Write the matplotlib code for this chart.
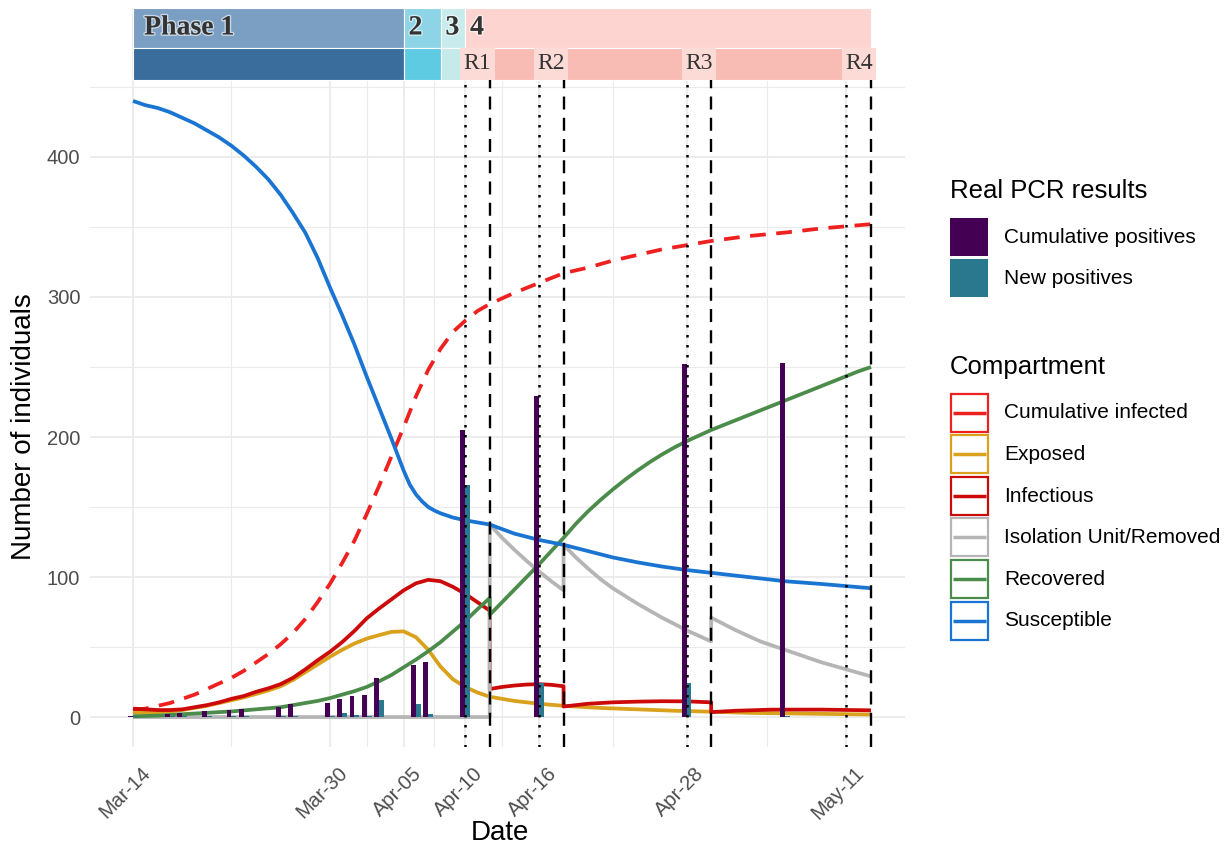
import matplotlib
matplotlib.use("Agg")
import matplotlib.pyplot as plt
import matplotlib.patheffects as pe
from matplotlib.patches import Rectangle
from matplotlib.transforms import ScaledTranslation
import pandas as pd

plt.rcParams['font.family'] = ['Liberation Sans', 'DejaVu Sans']

START = "2020-03-14"

def day(s):
    return (pd.Timestamp(s) - pd.Timestamp(START)).days

# ---------------- data ----------------
tick_dates = ["2020-03-14", "2020-03-30", "2020-04-05", "2020-04-10",
              "2020-04-16", "2020-04-28", "2020-05-11"]
tick_labels = ["Mar-14", "Mar-30", "Apr-05", "Apr-10", "Apr-16", "Apr-28", "May-11"]

phase_names = ["Phase 1", "2", "3", "4"]
phase_starts = ["2020-03-14", "2020-04-05", "2020-04-08", "2020-04-10"]
phase_ends = ["2020-04-05", "2020-04-08", "2020-04-10", "2020-05-13"]

round_names = ["R1", "R2", "R3", "R4"]
round_sample_dates = ["2020-04-10", "2020-04-16", "2020-04-28", "2020-05-11"]
round_result_dates = ["2020-04-12", "2020-04-18", "2020-04-30", "2020-05-13"]

# days since Mar-14 ; duplicated days mark the jumps at result dates
cuminf_days = list(range(0, 30)) + [31, 33, 35, 37, 39, 41, 43, 45, 47, 50, 53, 56, 60]
cuminf_vals = [5, 6, 8, 10, 13, 16, 20, 24, 28, 33, 39, 45, 52, 60, 70, 82, 95, 110,
               126, 145, 165, 186, 207, 229, 248, 263, 275, 283, 290, 295,
               303, 310, 317, 321, 326, 330, 334, 337, 340, 343.5, 346, 349, 352]

exposed_days = list(range(0, 30)) + [31, 33, 35, 38, 41, 44, 47, 50, 54, 60]
exposed_vals = [3, 3, 3.5, 4, 5, 6.5, 8, 10, 12, 14, 16.5, 19, 22, 26.5, 32, 37.5, 43,
                48, 52.5, 56, 58.5, 60.8, 61.2, 57, 48, 36, 27, 21.5, 17.5, 14.5,
                11.5, 9.5, 8, 6.5, 5.5, 4.5, 3.8, 3, 2.5, 1.8]

infect_days = list(range(0, 30)) + [29, 30, 31, 32, 33, 34, 35, 35, 37, 39, 41, 43,
                                    45, 47, 47, 49, 52, 56, 60]
infect_vals = [6, 5.5, 5, 5, 5.5, 7, 8.5, 10.5, 13, 15, 18, 20.5, 23.5, 28, 34, 40.5,
               46.5, 53.5, 61.5, 70.5, 77.5, 84, 90.5, 95.5, 98, 97, 93, 88, 82, 76,
               20, 21.5, 22.5, 23.2, 23.5, 23, 22, 7.5, 9.5, 10.5, 11, 11.3,
               11.2, 10.5, 3.5, 4.5, 5.3, 5.3, 4.8]

isol_days = [0, 29, 29, 30, 31, 32, 33, 34, 35, 35, 36, 37, 38, 39, 41, 43, 45, 47, 47,
             49, 51, 53, 56, 60]
isol_vals = [0, 0, 137.5, 128, 119.5, 111.5, 104, 97, 90.5, 123, 114, 106, 98.5, 92,
             81, 71, 62, 54, 71, 62, 54, 48, 39, 29]

recov_days = [0, 2, 4, 6, 8, 10] + list(range(12, 30)) + list(range(29, 61))
recov_vals = [0.5, 1, 2, 3, 4, 5.5, 7, 8.5, 10, 11.5, 13.5, 16, 18.5, 21.5, 25.5, 30,
              35.5, 41, 47, 53.5, 61, 68.5, 77, 85,
              73, 82, 91, 100, 109, 118.5, 128, 138, 147, 155, 162.5, 169.5, 176,
              182, 187.5, 192.5, 197, 201, 205, 208.5, 212, 215.5, 219, 222.5, 226,
              229.5, 233, 236.5, 240, 243.5, 247, 250]

susc_days = list(range(0, 22)) + [22, 22.5, 23, 23.5, 24, 24.5, 25, 26, 27, 28, 29,
                                  31, 33, 35, 37, 39, 41, 43, 45, 47, 50, 53, 56, 60]
susc_vals = [440, 437, 435, 432, 428, 424, 419, 414, 408, 401, 393, 384, 373, 360,
             346, 328, 307, 287, 266, 243, 221, 199, 176, 166, 159, 154, 150, 147.5,
             145.5, 142.5, 140.5, 139, 137.5, 131, 126.5, 123, 118.5, 114, 110.5,
             107.5, 105, 103, 100, 97, 95, 92]

pcr_days = [0, 3, 4, 6, 8, 9, 12, 13, 16, 17, 18, 19, 20, 23, 24, 27, 33, 45, 53]
cum_positives = [1, 2, 3, 4, 5, 6, 7, 9, 10, 13, 15, 16, 28, 37, 39, 205, 229, 252, 253]
new_positives = [1, 0.5, 1, 1, 1, 1, 0.5, 1, 1, 3, 1.5, 1, 12, 9, 2, 166, 24, 24, 1]

pcr_names = ["Cumulative positives", "New positives"]
pcr_colors = ["#440154", "#2A788E"]

comp_names = ["Cumulative infected", "Exposed", "Infectious",
              "Isolation Unit/Removed", "Recovered", "Susceptible"]
comp_colors = ["#EE2020", "#D9A11C", "#CC0A0A", "#B5B5B5", "#4C8C4A", "#1A74D2"]
comp_series = [(cuminf_days, cuminf_vals), (exposed_days, exposed_vals),
               (infect_days, infect_vals), (isol_days, isol_vals),
               (recov_days, recov_vals), (susc_days, susc_vals)]

phase_top_colors = ["#7a9fc2", "#8dd5e6", "#c8ebee", "#fdd4cf"]
phase_bottom_colors = ["#3a6d9c", "#5ecbe3", "#c6e9e9", "#f9bcb4"]
round_box_color = "#fcdbd6"

# ---------------- figure ----------------
W, H = 1229, 852
fig = plt.figure(figsize=(W / 100, H / 100), dpi=100)
L, R, T, B = 90, 905, 8, 747
ax = fig.add_axes([L / W, 1 - B / H, (R - L) / W, (B - T) / H])

XMIN, XMAX = -3.5, 62.76
YMIN, YMAX = -21.4, 506.4
ax.set_xlim(XMIN, XMAX)
ax.set_ylim(YMIN, YMAX)

for s in ax.spines.values():
    s.set_visible(False)
ax.set_axisbelow(True)

tick_pos = [day(d) for d in tick_dates]
ax.set_xticks(tick_pos)
ax.set_xticklabels(tick_labels)
ax.set_xticks([(a + b) / 2 for a, b in zip(tick_pos[:-1], tick_pos[1:])], minor=True)
ax.set_yticks([0, 100, 200, 300, 400])
ax.set_yticks([50, 150, 250, 350, 450], minor=True)
ax.grid(which='major', color='#EBEBEB', lw=1.3)
ax.grid(which='minor', color='#EBEBEB', lw=0.8)
ax.tick_params(which='both', length=0)
ax.tick_params(axis='y', labelsize=14.5, labelcolor='#4d4d4d', pad=7)
ax.tick_params(axis='x', labelsize=14.5, labelcolor='#4d4d4d', pad=12)
for lab in ax.get_xticklabels():
    lab.set_rotation(45)
    lab.set_ha('right')
    lab.set_va('top')
    lab.set_rotation_mode('anchor')
    lab.set_transform(lab.get_transform() + ScaledTranslation(0.08, 0, fig.dpi_scale_trans))

ax.set_xlabel("Date", fontsize=20)
ax.xaxis.set_label_coords(0.503, (B - 833) / (B - T))
ax.xaxis.label.set_va('center')
ax.set_ylabel("Number of individuals", fontsize=20)
ax.yaxis.label.set_va('center')
ax.yaxis.set_label_coords((24 - L) / (R - L), (B - 427) / (B - T))

# compartment lines
for name, col, (dd, vv) in zip(comp_names, comp_colors, comp_series):
    ls = (0, (4.2, 2.8)) if name == "Cumulative infected" else '-'
    ax.plot(dd, vv, color=col, lw=2.7, ls=ls, zorder=2,
            solid_joinstyle='round', solid_capstyle='butt')

# PCR bars (dodged)
ax.bar([d - 0.2 for d in pcr_days], cum_positives, width=0.4, color=pcr_colors[0], zorder=3)
ax.bar([d + 0.2 for d in pcr_days], new_positives, width=0.4, color=pcr_colors[1], zorder=3)

# band rows
ROW_MID = 477.9
ROW_BOT = 455.0
for nm, s, e, ct, cb in zip(phase_names, phase_starts, phase_ends,
                            phase_top_colors, phase_bottom_colors):
    x0, x1 = day(s), day(e)
    ax.add_patch(Rectangle((x0, ROW_MID), x1 - x0, YMAX - ROW_MID, facecolor=ct,
                           edgecolor='white', lw=0.8, zorder=1))
    ax.add_patch(Rectangle((x0, ROW_BOT), x1 - x0, ROW_MID - ROW_BOT, facecolor=cb,
                           edgecolor='white', lw=0.8, zorder=1))
    off = 0.9 if nm.startswith("Phase") else 0.4
    ax.text(x0 + off, (ROW_MID + YMAX) / 2, nm, family='Liberation Serif',
            fontweight='bold', fontsize=20, color='#333333', ha='left', va='center',
            zorder=5, path_effects=[pe.withStroke(linewidth=2, foreground=(1, 1, 1, 0.6))])

for nm, s, r in zip(round_names, round_sample_dates, round_result_dates):
    c = (day(s) + day(r)) / 2
    ax.add_patch(Rectangle((c - 1.4, ROW_BOT), 2.8, ROW_MID - ROW_BOT,
                           facecolor=round_box_color, edgecolor='none', zorder=1.5))
    ax.text(c, (ROW_MID + ROW_BOT) / 2, nm, family='Liberation Serif', fontsize=17,
            color='#333333', ha='center', va='center', zorder=5)

# round lines
ax.vlines([day(d) for d in round_sample_dates], YMIN, ROW_BOT, colors='black',
          linestyles=[(0, (1, 3))], lw=1.8, zorder=4)
ax.vlines([day(d) for d in round_result_dates], YMIN, ROW_BOT, colors='black',
          linestyles=[(0, (5.5, 3.5))], lw=1.7, zorder=4)

# ---------------- legend (pixel coordinates) ----------------
lax = fig.add_axes([0, 0, 1, 1])
lax.set_xlim(0, W)
lax.set_ylim(H, 0)
lax.axis('off')

lax.text(950, 191, "Real PCR results", fontsize=18.5, ha='left', va='center')
for i, (nm, col) in enumerate(zip(pcr_names, pcr_colors)):
    top = 218 + i * 41
    lax.add_patch(Rectangle((950, top), 38, 38, facecolor=col, edgecolor='none'))
    lax.text(1004, top + 19.5, nm, fontsize=15, ha='left', va='center')

lax.text(950, 367, "Compartment", fontsize=18.5, ha='left', va='center')
for i, (nm, col) in enumerate(zip(comp_names, comp_colors)):
    top = 393.5 + i * 41.6
    lax.add_patch(Rectangle((951, top), 37, 38, facecolor='white', edgecolor=col, lw=1.6))
    lax.plot([953, 986], [top + 19, top + 19], color=col, lw=2.5, solid_capstyle='butt')
    lax.text(1004, top + 19.5, nm, fontsize=15, ha='left', va='center')

fig.savefig("out.png", dpi=100)
